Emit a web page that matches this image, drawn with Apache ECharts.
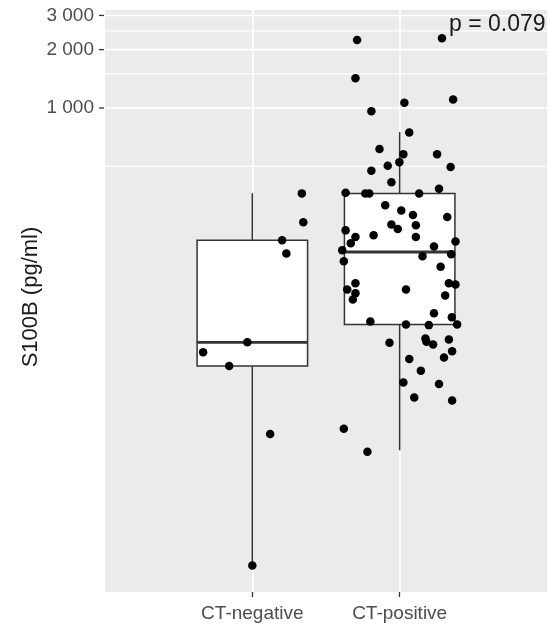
<!DOCTYPE html>
<html>
<head>
<meta charset="utf-8">
<script src="https://cdn.jsdelivr.net/npm/echarts@6/dist/echarts.min.js"></script>
<style>
html,body{margin:0;padding:0;background:#fff;}
#chart{width:550px;height:629px;}
</style>
</head>
<body>
<div id="chart"></div>
<script>
// ---- data ----
const categories = ['CT-negative', 'CT-positive'];
// [min, q1, median, q3, max] per category
const boxNeg = [4.4, 46.8, 62, 208, 364];
const boxPos = [17.2, 76.6, 181, 362, 751];

const negX = [1.336, 1.346, 1.202, 1.231, 0.666, 0.966, 0.843, 1.121, 1.0];
const negY = [363, 258, 208, 178, 55, 62, 46.8, 20.9, 4.38];

const posX = [1.711, 2.287, 1.700, 2.032, 2.363, 1.808, 2.065, 1.863, 2.025, 2.254,
  1.919, 1.998, 2.346, 1.808, 1.944, 2.267, 1.633, 1.767, 1.794, 2.132,
  1.902, 2.011, 2.090, 2.323, 2.110, 1.944, 1.987, 1.633, 1.823, 1.700,
  1.668, 2.110, 2.379, 2.233, 1.610, 2.350, 2.155, 1.621, 2.278, 1.700,
  1.644, 1.700, 1.682, 2.043, 2.334, 2.379, 2.309, 2.233, 2.354, 1.801,
  2.043, 2.198, 2.390, 1.931, 2.175, 2.182, 2.227, 2.334, 2.356, 2.301,
  2.065, 2.144, 2.025, 2.267, 2.099, 2.356, 1.621, 1.781];
const posY = [2240, 2290, 1424, 1064, 1106, 963, 748, 614, 578, 578,
  504, 526, 496, 475, 414, 384, 366, 362, 362, 362,
  315, 296, 281, 274, 249, 251, 238, 234, 221, 216,
  201, 216, 205, 193, 185, 176, 172, 162, 152, 125,
  116, 111, 103, 116, 125, 123, 108, 87.6, 83.5, 79.4,
  76.6, 76.0, 76.6, 61.6, 64.9, 62.3, 60.4, 64.1, 55.8, 51.8,
  50.8, 44.2, 38.5, 37.8, 32.2, 31.1, 22.2, 16.9];

const yTickValues = [1000, 2000, 3000];
const yGridValues = [500, 1000, 1500, 2000, 2500, 3000];
const pText = 'p = 0.079';
const yTitle = 'S100B (pg/ml)';

// ---- chart ----
const X_MIN = 0, X_MAX = 3, Y_MIN = 3.2, Y_MAX = 3200;
const FONT = 'Liberation Sans, Arial, sans-serif';
const chart = echarts.init(document.getElementById('chart'), null, {renderer: 'canvas'});

const boxRows = [[1].concat(boxNeg), [2].concat(boxPos)];

function fmtThousands(v) {
  return String(Math.round(v)).replace(/\B(?=(\d{3})+(?!\d))/g, ' ');
}

const option = {
  animation: false,
  backgroundColor: '#ffffff',
  grid: {left: 105, right: 0, top: 10, bottom: 37, show: true, backgroundColor: '#EBEBEB', borderWidth: 0},
  xAxis: [
    {
      type: 'category',
      data: [''].concat(categories, ['']),
      boundaryGap: false,
      axisLine: {show: false},
      axisTick: {show: true, length: 5, interval: (i, v) => v !== '', lineStyle: {color: '#333333', width: 1.3}},
      axisLabel: {interval: 0, color: '#4D4D4D', fontSize: 19, fontFamily: FONT, margin: 12},
      splitLine: {show: true, interval: (i, v) => v !== '', lineStyle: {color: '#FFFFFF', width: 1.6}}
    },
    {type: 'value', min: X_MIN, max: X_MAX, show: false}
  ],
  yAxis: [
    {type: 'log', min: Y_MIN, max: Y_MAX, logBase: 10,
     axisLine: {show: false}, axisTick: {show: false}, axisLabel: {show: false}, splitLine: {show: false}}
  ],
  graphic: [
    {type: 'text', x: 449, y: 25, z: 100,
     style: {text: pText, fill: '#1a1a1a', fontSize: 23, fontFamily: FONT, align: 'left', verticalAlign: 'middle'}},
    {type: 'text', x: 31, y: 297, rotation: Math.PI / 2,
     style: {text: yTitle, fill: '#1a1a1a', fontSize: 22, fontFamily: FONT, align: 'center', verticalAlign: 'middle'}}
  ],
  series: [
    { // horizontal grid lines
      type: 'custom', xAxisIndex: 1, yAxisIndex: 0, z: 1, silent: true, clip: false,
      data: yGridValues.map(v => [X_MIN, v]),
      renderItem: function (params, api) {
        const v = api.value(1);
        const p0 = api.coord([X_MIN, v]);
        const p1 = api.coord([X_MAX, v]);
        const major = yTickValues.indexOf(v) >= 0;
        return {type: 'line', shape: {x1: p0[0], y1: p0[1], x2: p1[0], y2: p1[1]},
                style: {stroke: '#FFFFFF', lineWidth: major ? 1.6 : 1.2}};
      }
    },
    { // y tick marks + labels
      type: 'custom', xAxisIndex: 1, yAxisIndex: 0, z: 1, silent: true, clip: false,
      data: yTickValues.map(v => [X_MIN, v]),
      renderItem: function (params, api) {
        const v = api.value(1);
        const p = api.coord([X_MIN, v]);
        return {type: 'group', children: [
          {type: 'line', shape: {x1: p[0] - 6, y1: p[1], x2: p[0] - 1, y2: p[1]},
           style: {stroke: '#333333', lineWidth: 1.3}},
          {type: 'text', x: p[0] - 11, y: p[1],
           style: {text: fmtThousands(v), fill: '#4D4D4D', fontSize: 19, fontFamily: FONT, align: 'right', verticalAlign: 'middle'}}
        ]};
      }
    },
    { // boxplots
      type: 'custom', xAxisIndex: 1, yAxisIndex: 0, z: 3, silent: true,
      data: boxRows,
      renderItem: function (params, api) {
        const x = api.value(0);
        const mn = api.value(1), q1 = api.value(2), md = api.value(3), q3 = api.value(4), mx = api.value(5);
        const hw = 0.375;
        const tl = api.coord([x - hw, q3]);
        const br = api.coord([x + hw, q1]);
        const cTop = api.coord([x, mx]);
        const cQ3 = api.coord([x, q3]);
        const cQ1 = api.coord([x, q1]);
        const cMin = api.coord([x, mn]);
        const mL = api.coord([x - hw, md]);
        const mR = api.coord([x + hw, md]);
        const ls = {stroke: '#333333', lineWidth: 1.5};
        return {type: 'group', children: [
          {type: 'line', shape: {x1: cTop[0], y1: cTop[1], x2: cQ3[0], y2: cQ3[1]}, style: ls},
          {type: 'line', shape: {x1: cQ1[0], y1: cQ1[1], x2: cMin[0], y2: cMin[1]}, style: ls},
          {type: 'rect', shape: {x: tl[0], y: tl[1], width: br[0] - tl[0], height: br[1] - tl[1]},
           style: {fill: '#FFFFFF', stroke: '#333333', lineWidth: 1.5}},
          {type: 'line', shape: {x1: mL[0], y1: mL[1], x2: mR[0], y2: mR[1]},
           style: {stroke: '#333333', lineWidth: 2.8}}
        ]};
      }
    },
    {
      type: 'scatter', xAxisIndex: 1, yAxisIndex: 0, z: 5, silent: true,
      symbol: 'circle', symbolSize: 8.5,
      itemStyle: {color: '#000000', opacity: 1},
      data: negX.map((x, i) => [x, negY[i]])
    },
    {
      type: 'scatter', xAxisIndex: 1, yAxisIndex: 0, z: 5, silent: true,
      symbol: 'circle', symbolSize: 8.5,
      itemStyle: {color: '#000000', opacity: 1},
      data: posX.map((x, i) => [x, posY[i]])
    }
  ]
};
chart.setOption(option);
</script>
</body>
</html>
